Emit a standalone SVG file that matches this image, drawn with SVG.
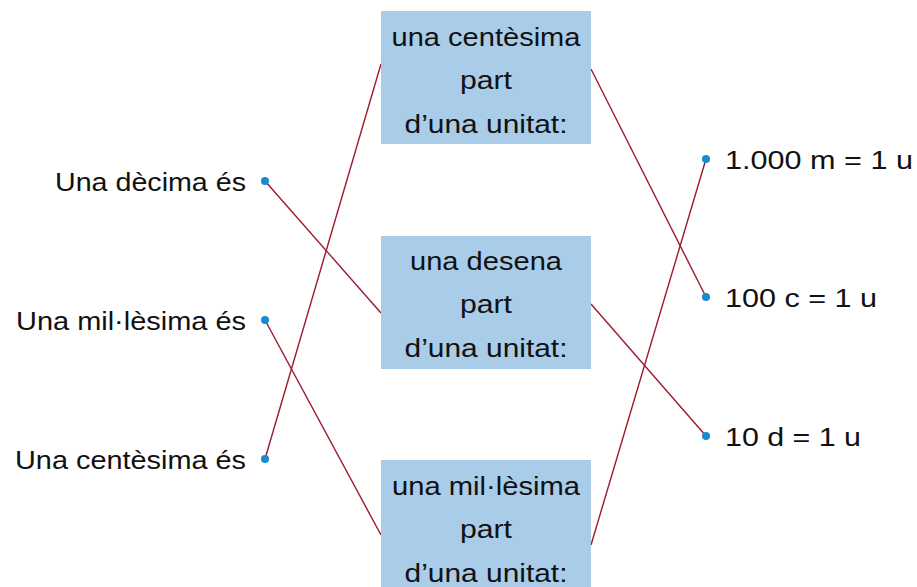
<svg xmlns="http://www.w3.org/2000/svg" width="917" height="587" viewBox="0 0 917 587">
<style>
.box{fill:#a9cce9}
.t{font-family:"Liberation Sans",Arial,sans-serif;font-size:26px;fill:#111}
.c{text-anchor:middle}
.r{text-anchor:end}
.dot{fill:#168ccf}
.ln{stroke:#a0182d;stroke-width:1.4;fill:none}
</style>
<rect width="917" height="587" fill="#fff"/>
<g id="connectors">
<line class="ln" x1="265" y1="181" x2="381" y2="313"/>
<line class="ln" x1="265" y1="320" x2="381" y2="535"/>
<line class="ln" x1="265" y1="459" x2="381" y2="64"/>
<line class="ln" x1="591" y1="69" x2="706" y2="297"/>
<line class="ln" x1="591" y1="304" x2="706" y2="436"/>
<line class="ln" x1="591" y1="545" x2="706" y2="159"/>
</g>
<g id="left1"><text class="t r" x="246" y="191" textLength="191" lengthAdjust="spacingAndGlyphs">Una dècima és</text><circle class="dot" cx="265" cy="181" r="4"/></g>
<g id="left2"><text class="t r" x="246" y="330" textLength="230" lengthAdjust="spacingAndGlyphs">Una mil·lèsima és</text><circle class="dot" cx="265" cy="320" r="4"/></g>
<g id="left3"><text class="t r" x="246" y="469" textLength="231" lengthAdjust="spacingAndGlyphs">Una centèsima és</text><circle class="dot" cx="265" cy="459" r="4"/></g>
<g id="box1"><rect class="box" x="381" y="11" width="210" height="133"/>
<text class="t c" x="486" y="46" textLength="189" lengthAdjust="spacingAndGlyphs">una centèsima</text><text class="t c" x="486" y="89" textLength="52" lengthAdjust="spacingAndGlyphs">part</text><text class="t c" x="486" y="133" textLength="163" lengthAdjust="spacingAndGlyphs">d’una unitat:</text></g>
<g id="box2"><rect class="box" x="381" y="236" width="210" height="133"/>
<text class="t c" x="486" y="270" textLength="152" lengthAdjust="spacingAndGlyphs">una desena</text><text class="t c" x="486" y="313" textLength="52" lengthAdjust="spacingAndGlyphs">part</text><text class="t c" x="486" y="357" textLength="163" lengthAdjust="spacingAndGlyphs">d’una unitat:</text></g>
<g id="box3"><rect class="box" x="381" y="460" width="210" height="127"/>
<text class="t c" x="486" y="495" textLength="188" lengthAdjust="spacingAndGlyphs">una mil·lèsima</text><text class="t c" x="486" y="538" textLength="52" lengthAdjust="spacingAndGlyphs">part</text><text class="t c" x="486" y="582" textLength="163" lengthAdjust="spacingAndGlyphs">d’una unitat:</text></g>
<g id="right1"><circle class="dot" cx="706" cy="159" r="4"/><text class="t" x="725" y="169" textLength="188" lengthAdjust="spacingAndGlyphs">1.000 m = 1 u</text></g>
<g id="right2"><circle class="dot" cx="706" cy="297" r="4"/><text class="t" x="725" y="307" textLength="152" lengthAdjust="spacingAndGlyphs">100 c = 1 u</text></g>
<g id="right3"><circle class="dot" cx="706" cy="436" r="4"/><text class="t" x="725" y="446" textLength="136" lengthAdjust="spacingAndGlyphs">10 d = 1 u</text></g>
</svg>
